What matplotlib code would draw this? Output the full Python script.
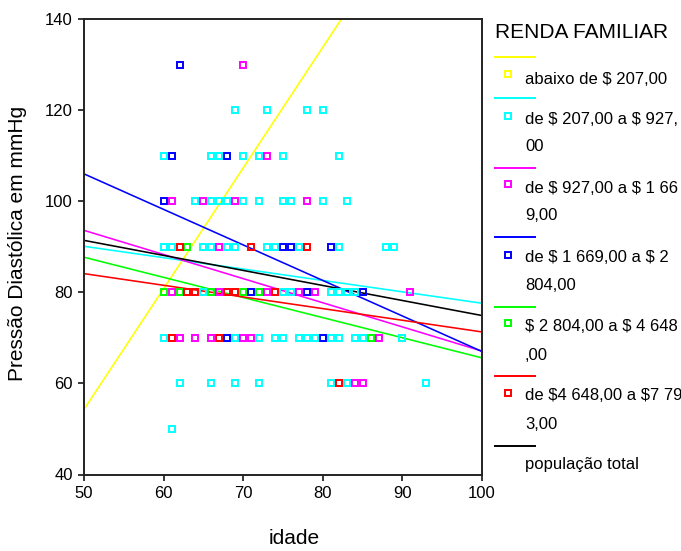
import matplotlib
matplotlib.use("Agg")
import matplotlib.pyplot as plt
from matplotlib.lines import Line2D

plt.rcParams['font.family'] = ['Liberation Sans', 'DejaVu Sans']
plt.rcParams['text.parse_math'] = False

# Income groups (RENDA FAMILIAR)
group_labels = [
    ["abaixo de $ 207,00"],
    ["de $ 207,00 a $ 927,", "00"],
    ["de $ 927,00 a $ 1 66", "9,00"],
    ["de $ 1 669,00 a $ 2", "804,00"],
    ["$ 2 804,00 a $ 4 648", ",00"],
    ["de $4 648,00 a $7 79", "3,00"],
]
group_colors = ["#ffff00", "#00ffff", "#ff00ff", "#0000ff", "#00ff00", "#ff0000"]
total_label = "população total"
total_color = "#000000"

# Observations per group: (idade, pressão diastólica)
pts_yellow = []
pts_cyan = (
    [(a, 120) for a in [69, 73, 78, 80]]
    + [(a, 110) for a in [60, 66, 67, 70, 72, 75, 82]]
    + [(a, 100) for a in [64, 66, 67, 68, 70, 72, 75, 76, 80, 83]]
    + [(a, 90) for a in [60, 61, 65, 66, 68, 69, 73, 74, 77, 82, 88, 89]]
    + [(a, 80) for a in [65, 75, 76, 81, 82, 83, 84]]
    + [(a, 70) for a in [60, 69, 72, 74, 75, 77, 78, 79, 81, 82, 84, 85, 90]]
    + [(a, 60) for a in [62, 66, 69, 72, 81, 83, 93]]
    + [(a, 50) for a in [61]]
)
pts_magenta = (
    [(a, 130) for a in [70]]
    + [(a, 110) for a in [73]]
    + [(a, 100) for a in [61, 65, 69, 78]]
    + [(a, 90) for a in [67]]
    + [(a, 80) for a in [61, 67, 73, 77, 79, 91]]
    + [(a, 70) for a in [62, 64, 66, 70, 71, 87]]
    + [(a, 60) for a in [84, 85]]
)
pts_blue = (
    [(a, 130) for a in [62]]
    + [(a, 110) for a in [61, 68]]
    + [(a, 100) for a in [60]]
    + [(a, 90) for a in [75, 76, 81]]
    + [(a, 80) for a in [71, 78, 85]]
    + [(a, 70) for a in [68, 80]]
)
pts_green = (
    [(a, 90) for a in [63]]
    + [(a, 80) for a in [60, 62, 66, 70, 72]]
    + [(a, 70) for a in [86]]
)
pts_red = (
    [(a, 90) for a in [62, 71, 78]]
    + [(a, 80) for a in [63, 64, 68, 69, 74]]
    + [(a, 70) for a in [61, 67]]
    + [(a, 60) for a in [82]]
)
group_points = [pts_yellow, pts_cyan, pts_magenta, pts_blue, pts_green, pts_red]

# Linear fit lines: predicted value at idade = 50 and idade = 100
fit_x = [50, 100]
fit_yellow = [54.3, 186.8]
fit_cyan = [90.1, 77.6]
fit_magenta = [93.6, 67.1]
fit_blue = [106.0, 67.0]
fit_green = [87.7, 65.6]
fit_red = [84.1, 71.3]
fit_total = [91.4, 74.9]
group_fits = [fit_yellow, fit_cyan, fit_magenta, fit_blue, fit_green, fit_red]

x_ticks = [50, 60, 70, 80, 90, 100]
y_ticks = [40, 60, 80, 100, 120, 140]

W, H = 681, 551
fig = plt.figure(figsize=(W / 100, H / 100), dpi=100)
ax = fig.add_axes([84 / W, (H - 474.5) / H, (482 - 84) / W, (474.5 - 19) / H])

MS, MEW, LW = 4.8, 1.4, 1.15

for pts, col in zip(group_points, group_colors):
    if pts:
        xs = [p[0] for p in pts]
        ys = [p[1] for p in pts]
        ax.plot(xs, ys, linestyle='none', marker='s', markersize=MS,
                markerfacecolor='none', markeredgecolor=col,
                markeredgewidth=MEW, zorder=3)

for fit, col in zip(group_fits, group_colors):
    ax.plot(fit_x, fit, color=col, linewidth=LW, zorder=2)
ax.plot(fit_x, fit_total, color=total_color, linewidth=LW, zorder=2)

ax.set_xlim(50, 100)
ax.set_ylim(40, 140)
ax.set_xticks(x_ticks)
ax.set_yticks(y_ticks)
ax.tick_params(axis='both', direction='out', length=4, width=1.1,
               labelsize=12, pad=4, colors='#000000')
for s in ax.spines.values():
    s.set_linewidth(1.4)
    s.set_color('#222222')

fig.text(294 / W, 13 / H, "idade", fontsize=15, ha='center', va='center')
fig.text(18 / W, (H - 243) / H, "Pressão Diastólica em mmHg", fontsize=15,
         rotation=90, ha='center', va='center')

# Legend drawn in figure pixel coordinates
def fy(py):
    return (H - py) / H

fig.text(495 / W, fy(32.3), "RENDA FAMILIAR", fontsize=15, ha='left', va='center')

line_rows = [57.3, 97.7, 167.7, 237.3, 306.7, 376.0]
marker_rows = [74.0, 115.7, 184.3, 255.0, 323.3, 392.7]
text_rows = [[79.0], [120.0, 146.7], [188.3, 216.0], [257.7, 285.0],
             [326.7, 355.0], [395.0, 424.3]]

for lbl, col, ly, my, tys in zip(group_labels, group_colors, line_rows,
                                 marker_rows, text_rows):
    fig.add_artist(Line2D([495 / W, 535 / W], [fy(ly), fy(ly)], color=col,
                          linewidth=1.4, transform=fig.transFigure))
    fig.add_artist(Line2D([507.7 / W], [fy(my)], marker='s', markersize=MS,
                          markerfacecolor='none', markeredgecolor=col,
                          markeredgewidth=MEW, linestyle='none',
                          transform=fig.transFigure))
    for line_text, ty in zip(lbl, tys):
        fig.text(525 / W, fy(ty), line_text, fontsize=12, ha='left', va='center')

fig.add_artist(Line2D([495 / W, 535 / W], [fy(445.7), fy(445.7)],
                      color=total_color, linewidth=1.4,
                      transform=fig.transFigure))
fig.text(525 / W, fy(465.0), total_label, fontsize=12, ha='left', va='center')

fig.savefig("out.png", dpi=100)
